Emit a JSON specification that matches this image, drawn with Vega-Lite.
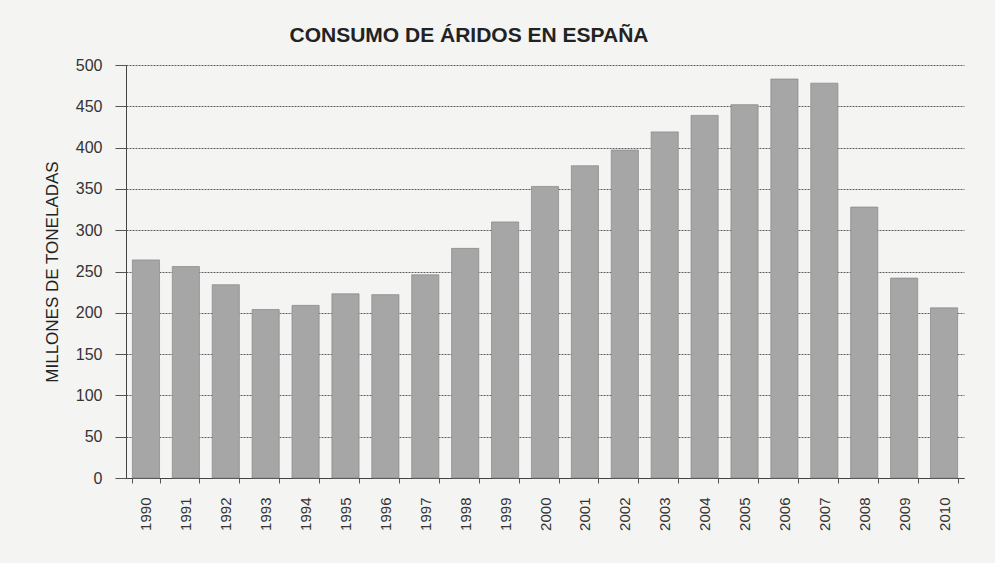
{
  "$schema": "https://vega.github.io/schema/vega-lite/v6.json",
  "autosize": "none",
  "width": 838,
  "height": 413,
  "padding": {"left": 126, "top": 65, "right": 31, "bottom": 85},
  "background": "#f4f4f2",
  "title": {
    "text": "CONSUMO DE ÁRIDOS EN ESPAÑA",
    "font": "Liberation Sans",
    "fontSize": 21,
    "fontWeight": "bold",
    "color": "#222222",
    "anchor": "middle",
    "dx": -76,
    "offset": 11
  },
  "config": {
    "view": {"stroke": null},
    "axis": {"labelFont": "Liberation Sans", "titleFont": "Liberation Sans"}
  },
  "data": {
    "values": [
      {"year": "1990", "value": 264},
      {"year": "1991", "value": 256},
      {"year": "1992", "value": 234},
      {"year": "1993", "value": 204},
      {"year": "1994", "value": 209},
      {"year": "1995", "value": 223},
      {"year": "1996", "value": 222},
      {"year": "1997", "value": 246},
      {"year": "1998", "value": 278},
      {"year": "1999", "value": 310},
      {"year": "2000", "value": 353},
      {"year": "2001", "value": 378},
      {"year": "2002", "value": 397},
      {"year": "2003", "value": 419},
      {"year": "2004", "value": 439},
      {"year": "2005", "value": 452},
      {"year": "2006", "value": 483},
      {"year": "2007", "value": 478},
      {"year": "2008", "value": 328},
      {"year": "2009", "value": 242},
      {"year": "2010", "value": 206}
    ]
  },
  "mark": {"type": "bar", "color": "#a6a6a6", "stroke": "#858585", "strokeWidth": 0.7},
  "encoding": {
    "x": {
      "field": "year",
      "type": "ordinal",
      "scale": {"paddingInner": 0.32, "paddingOuter": 0.16},
      "axis": {
        "title": null,
        "labelAngle": -90,
        "labelFontSize": 15,
        "labelColor": "#333333",
        "labelPadding": 14,
        "tickBand": "extent",
        "tickSize": 5,
        "tickColor": "#555555",
        "domainColor": "#444444",
        "grid": false
      }
    },
    "y": {
      "field": "value",
      "type": "quantitative",
      "scale": {"domain": [0, 500], "nice": false},
      "axis": {
        "title": "MILLONES DE TONELADAS",
        "titleFontSize": 17,
        "titleFontWeight": "normal",
        "titleColor": "#222222",
        "titlePadding": 14,
        "values": [0, 50, 100, 150, 200, 250, 300, 350, 400, 450, 500],
        "labelFontSize": 16,
        "labelColor": "#333333",
        "labelPadding": 13,
        "tickSize": 11,
        "tickColor": "#555555",
        "domainColor": "#444444",
        "grid": true,
        "gridColor": "#3a3a3a",
        "gridDash": [2, 1],
        "gridWidth": 0.8
      }
    }
  }
}
